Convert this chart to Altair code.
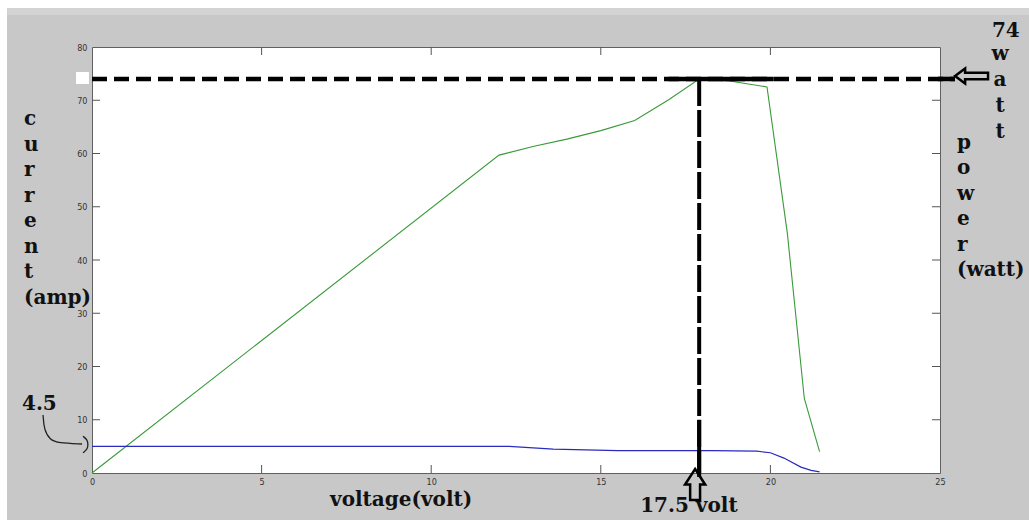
import altair as alt
import pandas as pd

# ---------------- data ----------------
power_volt = [0, 12.0, 13.0, 14.0, 15.0, 16.0, 17.0, 17.9, 18.8, 19.9, 20.5, 21.0, 21.45]
power_watt = [0, 59.7, 61.3, 62.7, 64.3, 66.2, 70.1, 74.0, 73.6, 72.5, 45.0, 14.0, 4.0]

current_volt = [0, 12.3, 13.6, 15.5, 18.3, 19.6, 20.0, 20.4, 20.9, 21.2, 21.45]
current_amp = [5.0, 5.0, 4.5, 4.2, 4.2, 4.1, 3.8, 2.8, 1.1, 0.5, 0.2]

x_ticks = [0, 5, 10, 15, 20, 25]
y_ticks = [0, 10, 20, 30, 40, 50, 60, 70, 80]

mpp_volt = 17.9      # where the vertical marker sits
mpp_watt = 74        # maximum power

# ---------------- layout / styles ----------------
W, H = 848, 426
X_DOM = [0, 25]
Y_DOM = [0, 80]
px_x = (X_DOM[1] - X_DOM[0]) / W
px_y = (Y_DOM[1] - Y_DOM[0]) / H
TICK = 8

xs = alt.Scale(domain=X_DOM, nice=False, zero=False)
ys = alt.Scale(domain=Y_DOM, nice=False, zero=False)
LABEL_FONT = "Liberation Sans Narrow, DejaVu Sans Condensed, Liberation Sans, sans-serif"
ANN_FONT = "DejaVu Serif"

power_df = pd.DataFrame({"v": power_volt, "p": power_watt})
current_df = pd.DataFrame({"v": current_volt, "i": current_amp})

x_axis = alt.Axis(values=x_ticks, ticks=False, domain=False, grid=False, labelFontSize=9,
                  labelColor="#333", labelPadding=4, labelFont=LABEL_FONT, labelFlush=False,
                  labelOverlap=False, title=None)
y_axis = alt.Axis(values=y_ticks, ticks=False, domain=False, grid=False, labelFontSize=9,
                  labelColor="#333", labelPadding=5, labelFont=LABEL_FONT, labelFlush=False,
                  labelOverlap=False, title=None)

# background strips (white edge at top / left of the picture)
x_left_edge = X_DOM[0] - 92 * px_x
x_right_edge = X_DOM[1] + 89 * px_x
y_top_edge = Y_DOM[1] + 47 * px_y
y_bot_edge = Y_DOM[0] - 47 * px_y
strips = pd.DataFrame([
    {"x": x_left_edge, "x2": x_right_edge, "y": y_top_edge, "y2": y_top_edge - 8 * px_y, "c": "#ffffff"},
    {"x": x_left_edge, "x2": x_right_edge, "y": y_top_edge - 8 * px_y, "y2": y_top_edge - 15 * px_y, "c": "#d3d3d3"},
    {"x": x_left_edge, "x2": x_left_edge + 7 * px_x, "y": y_top_edge, "y2": y_bot_edge, "c": "#ffffff"},
    {"x": -0.47, "x2": -0.09, "y": 75.3, "y2": 73.05, "c": "#ffffff"},
])
strip_layer = alt.Chart(strips).mark_rect(clip=False).encode(
    x=alt.X("x:Q", scale=xs, axis=x_axis), x2="x2:Q",
    y=alt.Y("y:Q", scale=ys, axis=y_axis), y2="y2:Q",
    color=alt.Color("c:N", scale=None))

power_layer = alt.Chart(power_df).mark_line(color="#3a9a3a", strokeWidth=1.1).encode(
    x=alt.X("v:Q", scale=xs, axis=x_axis),
    y=alt.Y("p:Q", scale=ys, axis=y_axis))

current_layer = alt.Chart(current_df).mark_line(color="#2a2ac0", strokeWidth=1.2).encode(
    x=alt.X("v:Q", scale=xs, axis=x_axis),
    y=alt.Y("i:Q", scale=ys, axis=y_axis))

# inward ticks on all four sides
tick_rows = []
for v in y_ticks[1:-1]:
    tick_rows.append({"x": X_DOM[0], "x2": X_DOM[0] + TICK * px_x, "y": v, "y2": v})
    tick_rows.append({"x": X_DOM[1], "x2": X_DOM[1] - TICK * px_x, "y": v, "y2": v})
for v in x_ticks[1:-1]:
    tick_rows.append({"x": v, "x2": v, "y": Y_DOM[0], "y2": Y_DOM[0] + TICK * px_y})
    tick_rows.append({"x": v, "x2": v, "y": Y_DOM[1], "y2": Y_DOM[1] - TICK * px_y})
tick_layer = alt.Chart(pd.DataFrame(tick_rows)).mark_rule(color="#555", strokeWidth=1).encode(
    x=alt.X("x:Q", scale=xs, axis=x_axis), x2="x2:Q",
    y=alt.Y("y:Q", scale=ys, axis=y_axis), y2="y2:Q")

# maximum power marker lines
h_dash = pd.DataFrame([{"x": 0, "x2": 25.44, "y": mpp_watt}])
h_dash_layer = alt.Chart(h_dash).mark_rule(color="black", strokeWidth=4.5, strokeDash=[15, 7], clip=False).encode(
    x=alt.X("x:Q", scale=xs, axis=x_axis), x2="x2:Q", y=alt.Y("y:Q", scale=ys, axis=y_axis))
h_solid = pd.DataFrame([{"x": 17.0, "x2": 20.1, "y": mpp_watt}, {"x": 24.94, "x2": 25.44, "y": mpp_watt}])
h_solid_layer = alt.Chart(h_solid).mark_rule(color="black", strokeWidth=4.5, clip=False).encode(
    x=alt.X("x:Q", scale=xs, axis=x_axis), x2="x2:Q", y=alt.Y("y:Q", scale=ys, axis=y_axis))

v_dash = pd.DataFrame([{"x": mpp_volt, "y": mpp_watt, "y2": 0}])
v_dash_layer = alt.Chart(v_dash).mark_rule(color="black", strokeWidth=4, strokeDash=[27, 4], clip=False).encode(
    x=alt.X("x:Q", scale=xs, axis=x_axis), y=alt.Y("y:Q", scale=ys, axis=y_axis), y2="y2:Q")
v_solid = pd.DataFrame([{"x": mpp_volt, "y": 10, "y2": -0.75}])
v_solid_layer = alt.Chart(v_solid).mark_rule(color="black", strokeWidth=4, clip=False).encode(
    x=alt.X("x:Q", scale=xs, axis=x_axis), y=alt.Y("y:Q", scale=ys, axis=y_axis), y2="y2:Q")

# hollow arrows
up_arrow = alt.Chart(pd.DataFrame([{"x": 17.78, "y": -2.16}])).mark_point(
    shape="M0,-1L0.65,0L0.32,0L0.32,1L-0.32,1L-0.32,0L-0.65,0Z", size=961,
    filled=False, color="black", strokeWidth=2.5, opacity=1, clip=False).encode(
    x=alt.X("x:Q", scale=xs, axis=x_axis), y=alt.Y("y:Q", scale=ys, axis=y_axis))
left_arrow = alt.Chart(pd.DataFrame([{"x": 25.93, "y": 74.55}])).mark_point(
    shape="M-1,0L-0.39,-0.45L-0.39,-0.2L1,-0.2L1,0.2L-0.39,0.2L-0.39,0.45Z", size=1089,
    filled=False, color="black", strokeWidth=2.5, opacity=1, clip=False).encode(
    x=alt.X("x:Q", scale=xs, axis=x_axis), y=alt.Y("y:Q", scale=ys, axis=y_axis))

# curly pointer from "4.5" to the current line
curve = pd.DataFrame({
    "x": [-1.443, -1.413, -1.237, -1.001, -0.294],
    "y": [10.89, 8.08, 6.20, 5.63, 5.45],
    "o": [0, 1, 2, 3, 4]})
curve_layer = alt.Chart(curve).mark_line(color="#222", strokeWidth=1.3, interpolate="basis", clip=False).encode(
    x=alt.X("x:Q", scale=xs, axis=x_axis), y=alt.Y("y:Q", scale=ys, axis=y_axis), order="o:Q")
brace = pd.DataFrame({"x": [-0.265, -0.13, -0.118, -0.13, -0.265],
                      "y": [6.9, 6.2, 5.3, 4.5, 3.8], "o": [0, 1, 2, 3, 4]})
brace_layer = alt.Chart(brace).mark_line(color="#222", strokeWidth=1.3, interpolate="basis", clip=False).encode(
    x=alt.X("x:Q", scale=xs, axis=x_axis), y=alt.Y("y:Q", scale=ys, axis=y_axis), order="o:Q")

# text annotations
left_texts = pd.DataFrame([
    {"x": -2.005, "y": 65.35, "t": "c\nu\nr\nr\ne\nn\nt\n(amp)"},
    {"x": -2.064, "y": 11.83, "t": "4.5"},
    {"x": 25.50, "y": 60.85, "t": "p\no\nw\ne\nr\n(watt)"},
    {"x": 26.53, "y": 81.88, "t": "74"},
    {"x": 7.017, "y": -6.20, "t": "voltage(volt)"},
    {"x": 16.16, "y": -7.32, "t": "17.5 volt"},
])
left_text_layer = alt.Chart(left_texts).mark_text(
    align="left", baseline="alphabetic", font=ANN_FONT, fontWeight="bold", fontSize=20,
    lineBreak="\n", lineHeight=25.5, color="#111", clip=False).encode(
    x=alt.X("x:Q", scale=xs, axis=x_axis), y=alt.Y("y:Q", scale=ys, axis=y_axis), text="t:N")

center_texts = pd.DataFrame([{"x": 26.77, "y": 77.56, "t": "w\na\nt\nt"}])
center_text_layer = alt.Chart(center_texts).mark_text(
    align="center", baseline="alphabetic", font=ANN_FONT, fontWeight="bold", fontSize=20,
    lineBreak="\n", lineHeight=26, color="#111", clip=False).encode(
    x=alt.X("x:Q", scale=xs, axis=x_axis), y=alt.Y("y:Q", scale=ys, axis=y_axis), text="t:N")

chart = alt.layer(
    strip_layer, power_layer, current_layer, tick_layer,
    h_dash_layer, h_solid_layer, v_dash_layer, v_solid_layer,
    curve_layer, brace_layer, left_text_layer, center_text_layer,
    up_arrow, left_arrow,
).properties(
    width=W, height=H,
    padding={"left": 92, "top": 47, "right": 89, "bottom": 47},
    autosize=alt.AutoSizeParams(type="none"),
    background="#c8c8c8",
).configure_view(fill="white", stroke="#606060", strokeWidth=1)

chart.save("out.html", embed_options={"renderer": "svg", "actions": False})
